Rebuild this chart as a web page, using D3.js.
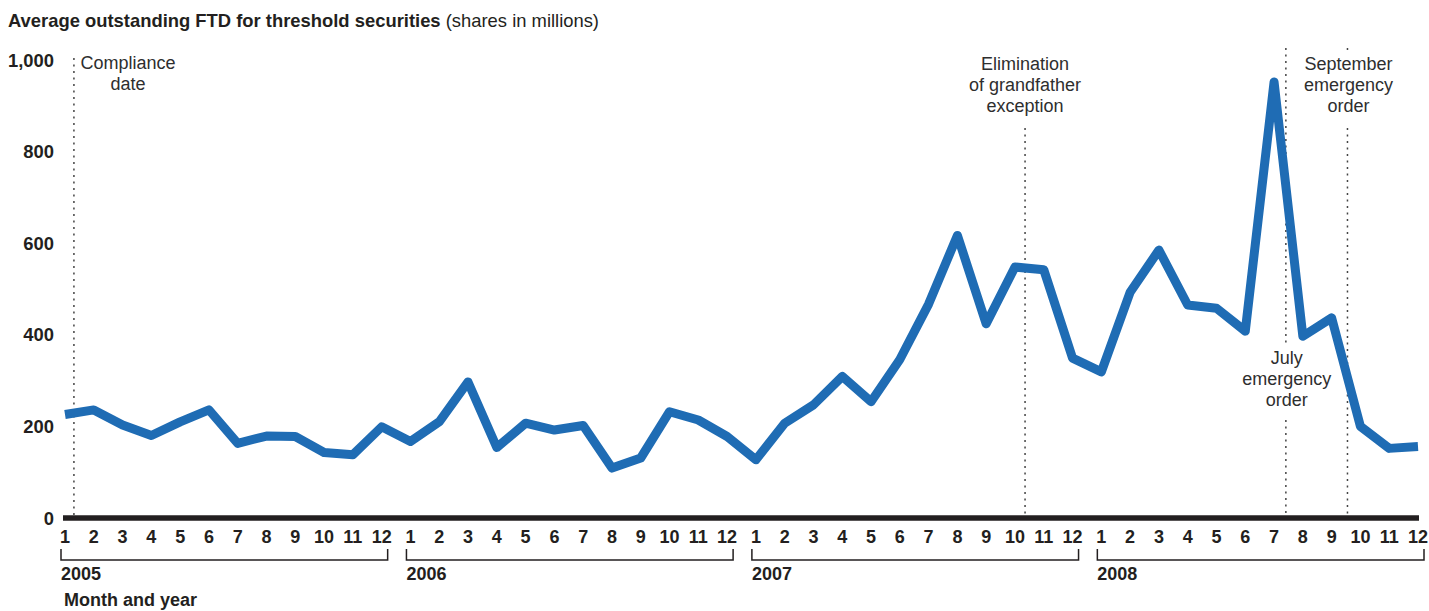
<!DOCTYPE html>
<html>
<head>
<meta charset="utf-8">
<script src="https://cdn.jsdelivr.net/npm/d3@7"></script>
<style>
  html, body { margin: 0; padding: 0; background: #fff; }
  svg { display: block; font-family: "Liberation Sans", Arial, Helvetica, sans-serif; }
</style>
</head>
<body>
<svg id="chart" width="1429" height="611"></svg>
<script>
// ---- Data ----
const years = [2005, 2006, 2007, 2008];
const monthLabels = ["1","2","3","4","5","6","7","8","9","10","11","12"];
const values2005 = [226, 236, 203, 180, 210, 236, 163, 179, 178, 143, 138, 199];
const values2006 = [167, 210, 297, 154, 207, 192, 202, 109, 131, 232, 214, 178];
const values2007 = [127, 207, 247, 309, 254, 346, 467, 617, 424, 548, 542, 349];
const values2008 = [319, 493, 585, 465, 458, 408, 952, 397, 437, 200, 152, 156];
const yTicks = [0, 200, 400, 600, 800, 1000];
// events: position in months since Jan 2005 (0 = Jan 2005)
const eventNames = ["Compliance date", "Elimination of grandfather exception", "July emergency order", "September emergency order"];
const eventMonths = [0.31, 33.35, 42.41, 44.55];
const titleBold = "Average outstanding FTD for threshold securities";
const titleRegular = " (shares in millions)";
const xAxisTitle = "Month and year";

// ---- Build series ----
const allValues = [values2005, values2006, values2007, values2008];
const series = [];
allValues.forEach((arr, yi) => arr.forEach((v, mi) => series.push({ i: yi * 12 + mi, year: years[yi], month: mi + 1, v })));

const svg = d3.select("#chart");
const textColor = "#231f20";

const x = d3.scaleLinear().domain([0, 47]).range([65, 1418]);
const y = d3.scaleLinear().domain([0, 1000]).range([518, 60]);

// Title
const title = svg.append("text").attr("x", 8).attr("y", 27).attr("fill", textColor).style("font-size", "18.4px");
title.append("tspan").attr("font-weight", "bold").text(titleBold);
title.append("tspan").text(titleRegular);

// Y tick labels
svg.append("g").selectAll("text").data(yTicks).join("text")
  .attr("x", 54).attr("y", d => y(d)).attr("dy", "0.36em")
  .attr("text-anchor", "end").attr("font-weight", "bold")
  .style("font-size", "18.4px").attr("fill", textColor)
  .text(d => d3.format(",")(d));

// Event dotted lines
const dotStyle = sel => sel.attr("stroke", "#444").attr("stroke-width", 1.5).attr("stroke-dasharray", "2,4.5");
const eventSegments = [
  [[58, 518]],
  [[128, 518]],
  [[48, 343], [420, 518]],
  [[48, 51], [128, 518]]
];
const evG = svg.append("g");
eventMonths.forEach((m, k) => {
  eventSegments[k].forEach(seg => {
    evG.append("line").attr("x1", x(m)).attr("x2", x(m)).attr("y1", seg[0]).attr("y2", seg[1]).call(dotStyle);
  });
});

// Event labels
const eventLabelLines = [
  ["Compliance", "date"],
  ["Elimination", "of grandfather", "exception"],
  ["July", "emergency", "order"],
  ["September", "emergency", "order"]
];
const eventLabelCx = [x(eventMonths[0]) + 54, x(eventMonths[1]), x(eventMonths[2]) + 1, x(eventMonths[3]) + 1];
const eventLabelTop = [69, 70, 364, 70];
eventLabelLines.forEach((lines, k) => {
  const t = svg.append("text").attr("text-anchor", "middle").attr("fill", "#2e2e2e").style("font-size", "18px");
  lines.forEach((ln, j) => {
    t.append("tspan").attr("x", eventLabelCx[k]).attr("y", eventLabelTop[k] + j * 20.8).text(ln);
  });
});

// Baseline axis
svg.append("line").attr("x1", x(0) - 2).attr("x2", x(47) + 1).attr("y1", y(0)).attr("y2", y(0))
  .attr("stroke", "#231f20").attr("stroke-width", 5.5);

// Line
const line = d3.line().x(d => x(d.i)).y(d => y(d.v));
svg.append("path").datum(series).attr("d", line)
  .attr("fill", "none").attr("stroke", "#1f6cb4").attr("stroke-width", 9)
  .attr("stroke-linejoin", "round").attr("stroke-linecap", "butt");

// Month labels
svg.append("g").selectAll("text").data(series).join("text")
  .attr("x", d => x(d.i)).attr("y", 543).attr("text-anchor", "middle")
  .attr("font-weight", "bold").style("font-size", "18px").attr("fill", textColor)
  .text(d => monthLabels[d.month - 1]);

// Year brackets
const brG = svg.append("g");
years.forEach((yr, yi) => {
  const x0 = x(yi * 12) - 4, x1 = x(yi * 12 + 11) + 6;
  brG.append("path").attr("d", `M${x0},549V560H${x1}V549`)
    .attr("fill", "none").attr("stroke", "#231f20").attr("stroke-width", 1.5);
  brG.append("text").attr("x", x0).attr("y", 580).attr("font-weight", "bold")
    .style("font-size", "18px").attr("fill", textColor).text(yr);
});

// X axis title
svg.append("text").attr("x", 64).attr("y", 606).attr("font-weight", "bold")
  .style("font-size", "18px").attr("fill", textColor).text(xAxisTitle);
</script>
</body>
</html>
